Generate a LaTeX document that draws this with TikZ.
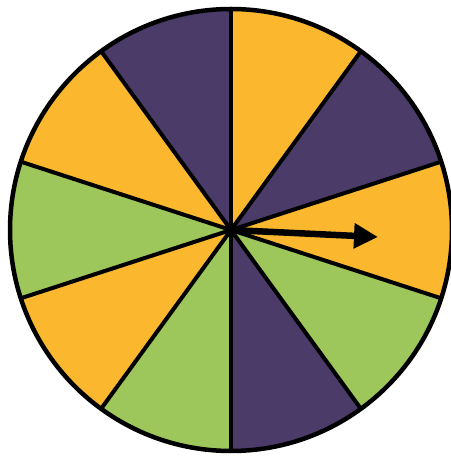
\documentclass[tikz,border=0pt]{standalone}
\usetikzlibrary{arrows.meta}
\definecolor{spinorange}{HTML}{FBB82E}
\definecolor{spinpurple}{HTML}{4A3B68}
\definecolor{spingreen}{HTML}{9DC75A}
\begin{document}
\begin{tikzpicture}[x=1pt, y=1pt, line join=round,
    spoke/.style={line width=4pt},
    rim/.style={line width=4.5pt},
    pointer/.style={line width=6.5pt, -{Triangle[length=24pt, width=24pt]}}]
  \useasboundingbox (0,0) rectangle (450,457);
  \coordinate (hub) at (231,227);
  \coordinate (tip) at (378,220);
  % coloured sectors, 36 degrees each
  \foreach \a/\c in {54/spinorange, 18/spinpurple, -18/spinorange, -54/spingreen,
      -90/spinpurple, -126/spingreen, -162/spinorange, 162/spingreen,
      126/spinorange, 90/spinpurple}
    \fill[\c] (hub) -- ++(\a:221) arc[start angle=\a, end angle=\a+36, radius=221] -- cycle;
  \foreach \a in {18,54,...,342}
    \draw[spoke] (hub) -- ++(\a:221);
  \draw[rim] (hub) circle[radius=221];
  \draw[pointer] (hub) -- (tip);
  \fill (hub) circle[radius=7];
\end{tikzpicture}
\end{document}
